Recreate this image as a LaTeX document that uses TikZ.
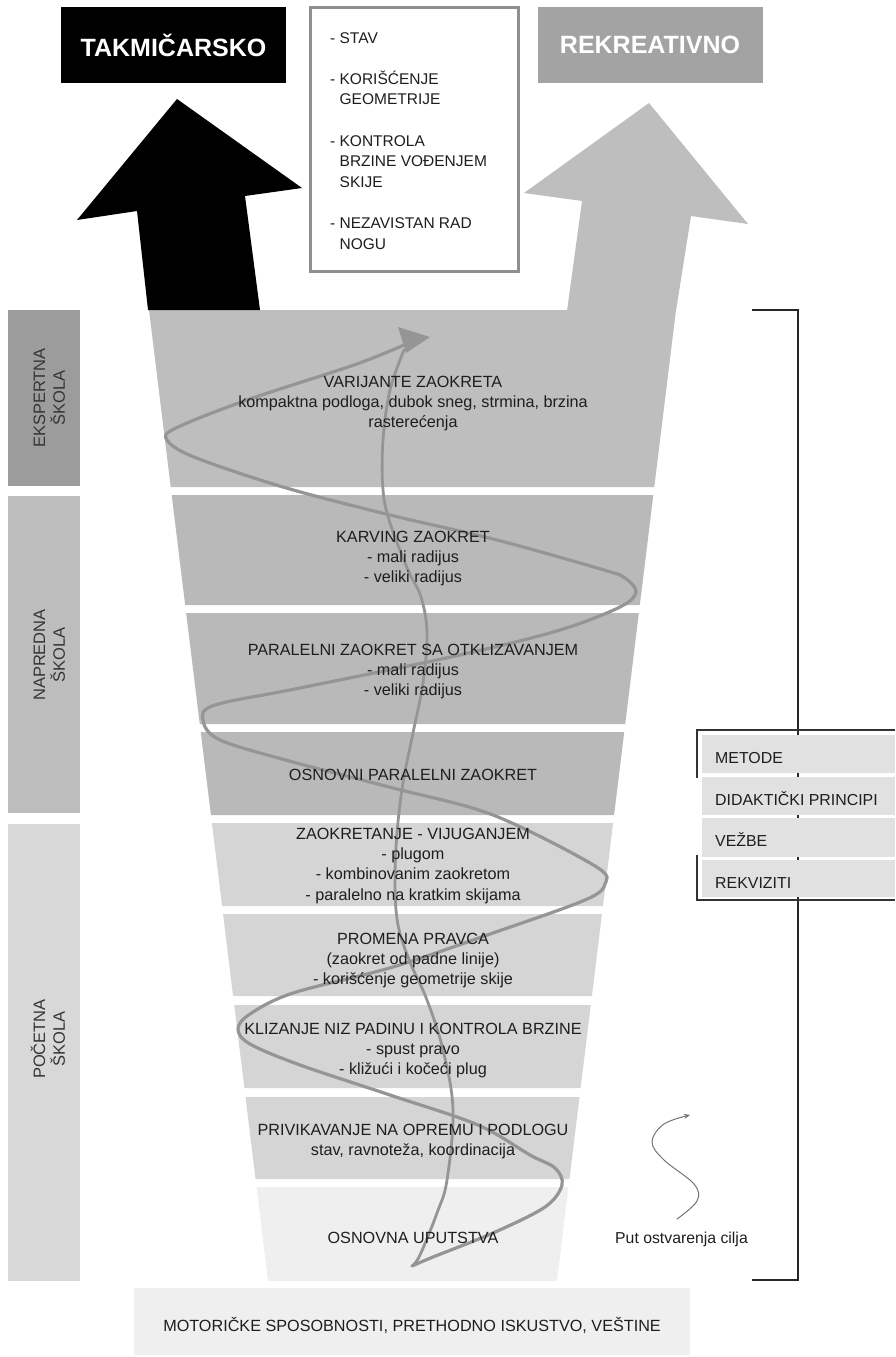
\documentclass[tikz,border=0pt]{standalone}
\usepackage{fontspec}
\setmainfont{Liberation Sans}
\usetikzlibrary{arrows.meta}
\newcommand{\setfs}[2]{\fontsize{#1}{#2}\selectfont}
\newcommand{\mlc}[1]{\begin{tabular}[t]{@{}c@{}}#1\end{tabular}}
\newcommand{\mll}[1]{\begin{tabular}[t]{@{}l@{}}#1\end{tabular}}
\newcommand{\funnelband}[3]{%
  \pgfmathsetmacro{\fbLT}{149+0.1226*(#1-310)}%
  \pgfmathsetmacro{\fbRT}{676-0.1226*(#1-310)}%
  \pgfmathsetmacro{\fbLB}{149+0.1226*(#2-310)}%
  \pgfmathsetmacro{\fbRB}{676-0.1226*(#2-310)}%
  \fill[#3] (\fbLT,#1) -- (\fbRT,#1) -- (\fbRB,#2) -- (\fbLB,#2) -- cycle;}
\definecolor{bandA}{HTML}{BEBEBE}
\definecolor{bandB}{HTML}{B9B9B9}
\definecolor{bandC}{HTML}{D5D5D5}
\definecolor{bandD}{HTML}{EFEFEF}
\definecolor{labA}{HTML}{9C9C9C}
\definecolor{labB}{HTML}{BDBDBD}
\definecolor{labC}{HTML}{D8D8D8}
\definecolor{rekc}{HTML}{A3A3A3}
\definecolor{boxline}{HTML}{8F8F8F}
\definecolor{panelc}{HTML}{E1E1E1}
\definecolor{curvec}{HTML}{959595}
\definecolor{txtc}{HTML}{1E1E1E}
\tikzset{
  bandtxt/.style={font=\setfs{16.2}{20.4}, text=txtc, inner sep=0pt, anchor=base},
  toplab/.style={font=\bfseries\setfs{25}{30}, text=white, inner sep=0pt, minimum width=225pt, minimum height=76pt},
  midtxt/.style={font=\setfs{15.5}{20.6}, text=txtc, inner sep=0pt, anchor=base west},
  sidelab/.style={font=\setfs{16.5}{18.5}, text=txtc!90!white, inner sep=0pt, rotate=90, anchor=base},
  pantxt/.style={font=\setfs{15.9}{19}, text=txtc, inner sep=0pt, anchor=base west},
  curve/.style={draw=curvec, line width=3.2pt, line cap=round},
  vline/.style={draw=curvec, line width=2.8pt, line cap=round},
  brk/.style={draw=black!85, line width=1.6pt},
  panelline/.style={draw=black!80, line width=1.8pt}
}
\begin{document}
\begin{tikzpicture}[x=1pt,y=-1pt]
\useasboundingbox (0,0) rectangle (895,1357);
% grey arrow (merges with top band)
\fill[bandA] (649,103) -- (748,224) -- (691,216) -- (676,311) -- (567,311) -- (582,201) -- (524,193) -- cycle;
% funnel bands
\funnelband{310}{487}{bandA}
\funnelband{495}{605}{bandB}
\funnelband{613}{724}{bandB}
\funnelband{732}{815}{bandB}
\funnelband{823}{906}{bandC}
\funnelband{914}{996}{bandC}
\funnelband{1005}{1088}{bandC}
\funnelband{1097}{1179}{bandC}
\funnelband{1187}{1281}{bandD}
% black arrow
\fill[black] (177,99) -- (302,188) -- (245,196) -- (260,310) -- (148,310) -- (137,211) -- (77,220) -- cycle;
% top labels
\node[toplab, fill=black] (tak) at (173.5,45) {TAKMIČARSKO};
\node[toplab, fill=rekc] (rek) at (650,45) {REKREATIVNO};
% middle box
\draw[draw=boxline, line width=3pt, fill=white] (310,7) rectangle (518,271);
\node[midtxt] (mid) at (330,43) {\mll{- STAV\\ \\- KORIŠĆENJE\\\phantom{- }GEOMETRIJE\\ \\- KONTROLA\\\phantom{- }BRZINE VOĐENJEM\\\phantom{- }SKIJE\\ \\- NEZAVISTAN RAD\\\phantom{- }NOGU}};
% left labels
\fill[labA] (8,310) rectangle (80,486);
\fill[labB] (8,496) rectangle (80,813);
\fill[labC] (8,824) rectangle (80,1281);
\node[sidelab] (eks) at (45,398) {\mlc{EKSPERTNA\\ŠKOLA}};
\node[sidelab] (nap) at (45,655) {\mlc{NAPREDNA\\ŠKOLA}};
\node[sidelab] (poc) at (45,1039) {\mlc{POČETNA\\ŠKOLA}};
% bottom box
\fill[bandD] (134,1288) rectangle (690,1355);
\node[bandtxt] (mot) at (412,1331) {MOTORIČKE SPOSOBNOSTI, PRETHODNO ISKUSTVO, VEŠTINE};
% curves
\draw[vline] plot[smooth, tension=0.6] coordinates {(412,1266) (420,1255) (437,1213) (447,1180) (453,1110) (443,1050) (427,1000) (410,962) (398,925) (395,883) (397,833) (403,783) (413,733) (423,683) (427,633) (421,597) (408,570) (390,523) (383,490) (383,440) (390,390) (404,350)};
\draw[curve] plot[smooth, tension=0.55] coordinates {(412,1266) (433,1257) (493,1233) (545,1207) (562,1185) (555,1168) (530,1155) (478,1125) (390,1095) (300,1065) (250,1044) (238,1029) (250,1014) (293,993) (393,967) (493,933) (585,900) (605,884) (595,866) (493,815) (393,788) (293,762) (220,740) (203,720) (215,705) (300,688) (460,655) (560,630) (620,607) (636,592) (625,578) (604,570) (497,540) (390,515) (283,487) (194,457) (167,440) (176,428) (247,400) (354,365) (404,345)};
\fill[curvec] (398,327) -- (430,337) -- (406,353) -- cycle;
% band texts
\node[bandtxt] (b1) at (413,387) {\mlc{VARIJANTE ZAOKRETA\\kompaktna podloga, dubok sneg, strmina, brzina\\rasterećenja}};
\node[bandtxt] (b2) at (413,542) {\mlc{KARVING ZAOKRET\\- mali radijus\\- veliki radijus}};
\node[bandtxt] (b3) at (413,655) {\mlc{PARALELNI ZAOKRET SA OTKLIZAVANJEM\\- mali radijus\\- veliki radijus}};
\node[bandtxt] (b4) at (413,780) {OSNOVNI PARALELNI ZAOKRET};
\node[bandtxt] (b5) at (413,839) {\mlc{ZAOKRETANJE - VIJUGANJEM\\- plugom\\- kombinovanim zaokretom\\- paralelno na kratkim skijama}};
\node[bandtxt] (b6) at (413,944) {\mlc{PROMENA PRAVCA\\(zaokret od padne linije)\\- korišćenje geometrije skije}};
\node[bandtxt] (b7) at (413,1034) {\mlc{KLIZANJE NIZ PADINU I KONTROLA BRZINE\\- spust pravo\\- kližući i kočeći plug}};
\node[bandtxt] (b8) at (413,1135) {\mlc{PRIVIKAVANJE NA OPREMU I PODLOGU\\stav, ravnoteža, koordinacija}};
\node[bandtxt] (b9) at (413,1243) {OSNOVNA UPUTSTVA};
% bracket
\draw[brk] (752,310) -- (798,310) -- (798,1280) -- (752,1280);
% right panel
\fill[panelc] (702,735) rectangle (895,773);
\fill[panelc] (702,777) rectangle (895,815);
\fill[panelc] (702,818) rectangle (895,857);
\fill[panelc] (702,860) rectangle (895,897);
\draw[panelline] (697,778) -- (697,730) -- (895,730);
\draw[panelline] (697,855) -- (697,900) -- (895,900);
\node[pantxt] (p1) at (715,763) {METODE};
\node[pantxt] (p2) at (715,805) {DIDAKTIČKI PRINCIPI};
\node[pantxt] (p3) at (715,846) {VEŽBE};
\node[pantxt] (p4) at (715,888) {REKVIZITI};
% legend
\draw[draw=black!55, line width=1pt, -{Stealth[length=6pt,width=5pt]}] plot[smooth, tension=0.6] coordinates {(677,1219) (697,1201) (694,1184) (664,1160) (652,1142) (664,1124) (690,1115)};
\node[pantxt, font=\setfs{15.8}{19}] (leg) at (615,1243) {Put ostvarenja cilja};
\end{tikzpicture}
\end{document}
